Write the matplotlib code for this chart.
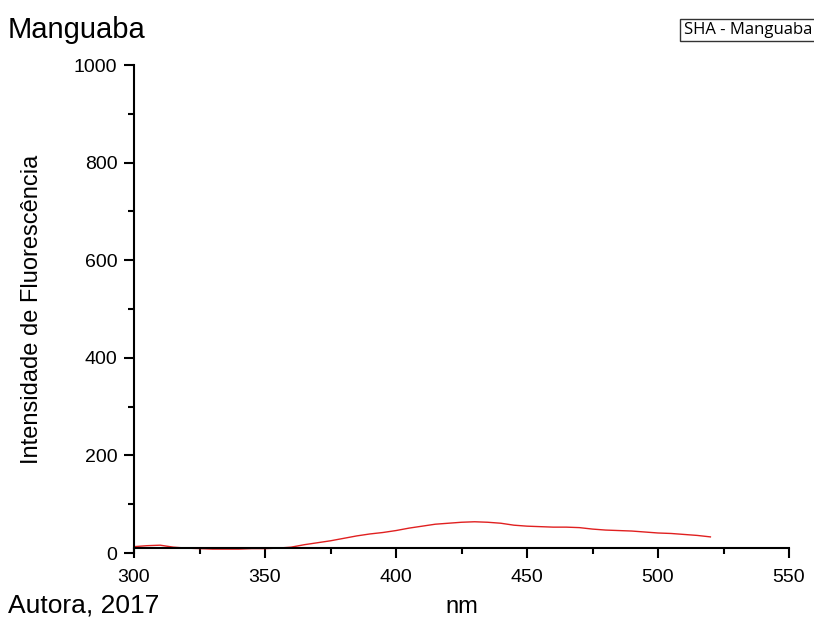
import matplotlib.pyplot as plt
from matplotlib.ticker import MultipleLocator

plt.rcParams['font.family'] = ['Liberation Sans', 'DejaVu Sans']

# Emission spectrum (SHA - Manguaba)
wavelength = [300, 305, 310, 315, 320, 325, 330, 335, 340, 345, 350, 355, 360,
              365, 370, 375, 380, 385, 390, 395, 400, 405, 410, 415, 420, 425,
              430, 435, 440, 445, 450, 455, 460, 465, 470, 475, 480, 485, 490,
              495, 500, 505, 510, 515, 520]
intensity = [13, 15, 16, 12, 10, 9, 8, 8, 8, 9, 9, 10, 12,
             17, 21, 25, 30, 35, 39, 42, 46, 51, 55, 59, 61, 63,
             64, 63, 61, 57, 55, 54, 53, 53, 52, 49, 47, 46, 45,
             43, 41, 40, 38, 36, 33]

fig = plt.figure(figsize=(8.14, 6.22), dpi=100)
ax = fig.add_axes([134 / 814, (622 - 553) / 622, 655 / 814, 488 / 622])

ax.plot(wavelength, intensity, color='#e02020', linewidth=1.0)

ax.set_xlim(300, 550)
ax.set_ylim(0, 1000)
ax.xaxis.set_major_locator(MultipleLocator(50))
ax.xaxis.set_minor_locator(MultipleLocator(25))
ax.yaxis.set_major_locator(MultipleLocator(200))
ax.yaxis.set_minor_locator(MultipleLocator(100))

ax.spines['top'].set_visible(False)
ax.spines['right'].set_visible(False)
ax.spines['bottom'].set_position(('data', 10))
for s in ['left', 'bottom']:
    ax.spines[s].set_linewidth(1.5)
ax.tick_params(which='major', direction='out', length=7, width=1.5,
               labelsize=14, pad=5)
ax.tick_params(axis='x', which='major', pad=8)
ax.tick_params(which='minor', direction='out', length=4, width=1.5)

ax.set_ylabel('Intensidade de Fluorescência', fontsize=17, labelpad=22)

fig.text(8 / 814, 1 - 30 / 622, 'Manguaba', fontsize=21, va='center', ha='left')
fig.text(8 / 814, 1 - 606 / 622, 'Autora, 2017', fontsize=19, va='center', ha='left')
fig.text(462 / 814, 1 - 607 / 622, 'nm', fontsize=17, va='center', ha='center')

fig.text(812 / 814, 1 - 30 / 622, 'SHA - Manguaba', fontsize=12, va='center',
         ha='right', family=['Open Sans', 'DejaVu Sans'],
         bbox=dict(boxstyle='square,pad=0.2', facecolor='white',
                   edgecolor='#333333', linewidth=1))

fig.savefig('out.png', dpi=100)
